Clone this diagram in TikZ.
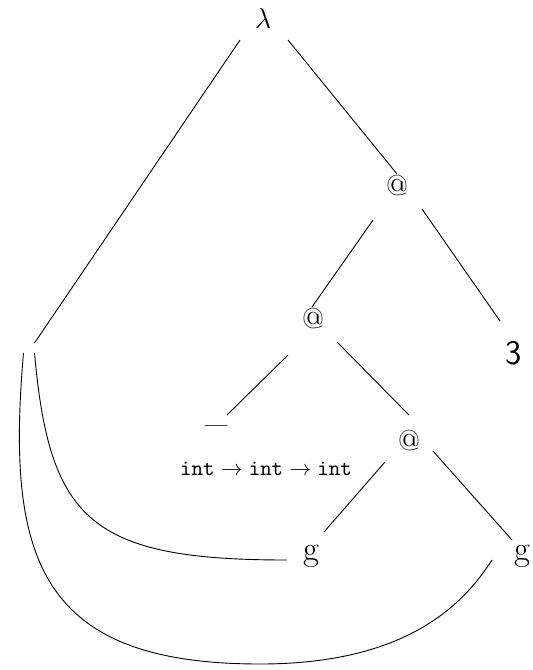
\documentclass[tikz,border=0pt]{standalone}
\usetikzlibrary{calc}
\begin{document}
\begin{tikzpicture}[x=0.5pt,y=-0.5pt,
  lab/.style={inner sep=0pt,outer sep=0pt},
  atnode/.style={lab,font=\Large},
  gnode/.style={lab,font=\LARGE},
  edge/.style={draw=black,line width=0.45pt},
  curve/.style={draw=black,line width=0.45pt}]
\useasboundingbox (0,0) rectangle (533,670);
% nodes
\node[lab,font=\Large] (lam) at (263,18) {$\lambda$};
\node[lab,minimum width=5.5pt,minimum height=5pt] (v) at (29,348) {};
\node[atnode] (at1) at (397,186) {@};
\node[atnode] (at2) at (313,319) {@};
\node[lab,font=\LARGE\sffamily] (three) at (514,353) {3};
\node[lab,font=\bfseries] (dash) at (216,429) {\textemdash};
\node[lab,font=\fontsize{10.7}{13}\selectfont] (lbl) at (266,469) {$\mathtt{int}\to\mathtt{int}\to\mathtt{int}$};
\node[atnode] (at3) at (409,440) {@};
\node[gnode] (g1) at (311,556) {g};
\node[gnode] (g2) at (522,556) {g};
% edges
\draw[edge] ($(lam)+(-23,22)$) -- (v.north east);
\draw[edge] ($(lam)+(25,22)$) -- ($(at1)+(0,-12)$);
\draw[edge] ($(at1)+(-24,34)$) -- ($(at2)+(-1,-12)$);
\draw[edge] ($(at1)+(25,23)$) -- ($(three)+(-14,-32)$);
\draw[edge] ($(at2)+(-25,36)$) -- ($(dash)+(11,-14)$);
\draw[edge] ($(at2)+(24,23)$) -- ($(at3)+(0,-25)$);
\draw[edge] ($(at3)+(-24,22)$) -- ($(g1)+(13,-24)$);
\draw[edge] ($(at3)+(24,11)$) -- ($(g2)+(-10,-16)$);
% curves
\draw[curve] (v.south east) .. controls ($(v.south east)+(15,167)$) and ($(g1)+(-221,4)$) .. ($(g1)+(-24,4)$);
\coordinate (cbot) at (260,664);
\draw[curve] (v.south west) .. controls ($(v.south west)+(-18,207)$) and (40,664) .. (cbot)
  .. controls (400,664) and (460,610) .. ($(g2)+(-30,4)$);
\end{tikzpicture}
\end{document}
